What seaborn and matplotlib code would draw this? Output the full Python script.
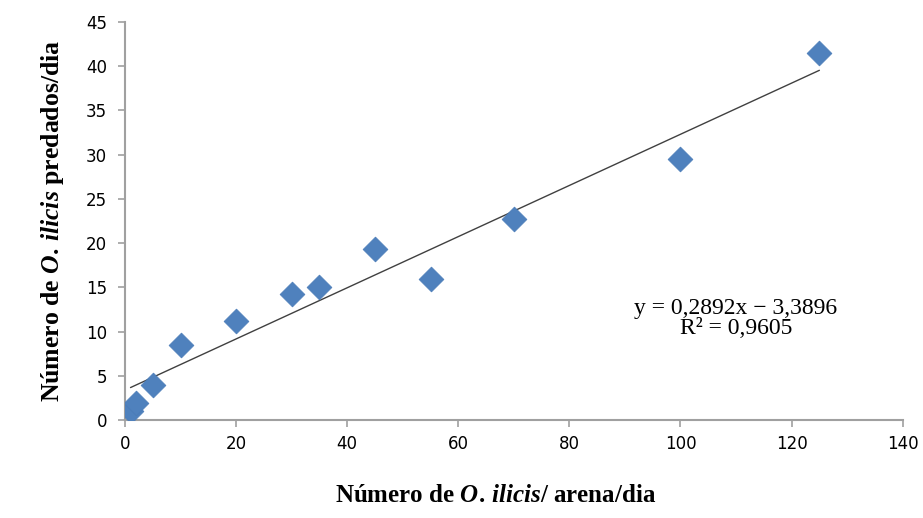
import numpy as np
import pandas as pd
import matplotlib
matplotlib.use("Agg")
import matplotlib.pyplot as plt
import seaborn as sns

# Data
presas_oferecidas = [1, 2, 5, 10, 20, 30, 35, 45, 55, 70, 100, 125]
presas_predadas = [1.0, 1.9, 4.0, 8.5, 11.2, 14.2, 15.1, 19.3, 16.0, 22.7, 29.5, 41.5]
x_ticks = [0, 20, 40, 60, 80, 100, 120, 140]
y_ticks = [0, 5, 10, 15, 20, 25, 30, 35, 40, 45]
slope = 0.2892
intercept = 3.3896
eq_text = "y = 0,2892x \u2212 3,3896\nR\u00b2 = 0,9605"

sns.set_theme(style="white")
plt.rcParams['font.family'] = ['DejaVu Sans']
plt.rcParams['mathtext.fontset'] = 'custom'
plt.rcParams['mathtext.it'] = 'Liberation Serif:italic:bold'
plt.rcParams['mathtext.rm'] = 'Liberation Serif:bold'

df = pd.DataFrame({"x": presas_oferecidas, "y": presas_predadas})

fig = plt.figure(figsize=(9.23, 5.18), dpi=100)
ax = fig.add_axes([0.1354, 0.189, 0.8426, 0.7685])

# trendline
xl = np.array([min(presas_oferecidas), max(presas_oferecidas)], dtype=float)
ax.plot(xl, slope * xl + intercept, color="#404040", lw=1.0, zorder=2)

sns.scatterplot(data=df, x="x", y="y", ax=ax, marker="D", s=160,
                color="#4F81BD", edgecolor="#4A7BB7", linewidth=0.5, zorder=3)

ax.set_xlim(0, 140)
ax.set_ylim(0, 45)
ax.set_xticks(x_ticks)
ax.set_yticks(y_ticks)
ax.tick_params(axis="both", labelsize=12, colors="#A0A0A0", labelcolor="black",
               length=5, width=1.2, direction="out", left=True, bottom=True)
ax.tick_params(axis="y", pad=8)
ax.tick_params(axis="x", pad=6)
for s in ["top", "right"]:
    ax.spines[s].set_visible(False)
for s in ["left", "bottom"]:
    ax.spines[s].set_color("#A0A0A0")
    ax.spines[s].set_linewidth(1.5)

ax.set_xlabel(r"Número de $\mathit{O.\,ilicis}$/ arena/dia", family="Liberation Serif",
              fontweight="bold", fontsize=18, color="black")
ax.xaxis.set_label_coords(0.477, -0.16)
ax.set_ylabel(r"Número de $\mathit{O.\,ilicis}$ predados/dia", family="Liberation Serif",
              fontweight="bold", fontsize=18.5, labelpad=14, color="black")

ax.text(110, 11.5, eq_text, family="Liberation Serif", fontsize=17, ha="center",
        va="center", linespacing=0.95, color="black")

fig.savefig("out.png", dpi=100)
